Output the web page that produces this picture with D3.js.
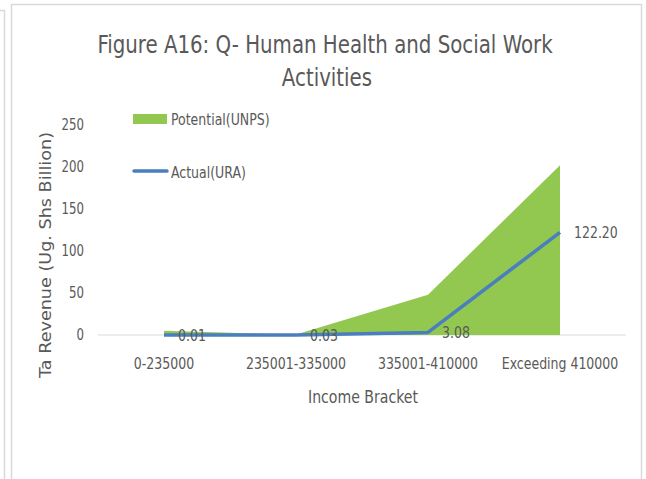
<!DOCTYPE html>
<html>
<head>
<meta charset="utf-8">
<script src="https://cdn.jsdelivr.net/npm/d3@7"></script>
<style>
  body { margin: 0; background: #fff; }
  text { font-family: "DejaVu Sans Condensed", "DejaVu Sans", sans-serif; fill: #595959; }
</style>
</head>
<body>
<svg id="chart"></svg>
<script>
const categories = ["0-235000", "235001-335000", "335001-410000", "Exceeding 410000"]
const potential  = [5, 0.5, 48, 202]
const actual     = [0.01, 0.03, 3.08, 122.20]
const yTicks     = [0, 50, 100, 150, 200, 250]

const width = 646, height = 479

const svg = d3.select("#chart")
    .attr("width", width)
    .attr("height", height)

// squeeze text a bit so it looks like the narrow office font
const squeeze = (sel, f = 0.87) => {
    sel.each(function () {
        const w = this.getComputedTextLength()
        d3.select(this)
            .attr("textLength", w * f)
            .attr("lengthAdjust", "spacingAndGlyphs")
    })
    return sel
}

// outer frames
svg.append("path")
    .attr("d", "M0,10.5 H4.5 V479")
    .attr("fill", "none")
    .attr("stroke", "#d9d9d9")
    .attr("stroke-width", 1.5)
svg.append("path")
    .attr("d", "M11.5,479 V4.5 H641.5 V479")
    .attr("fill", "none")
    .attr("stroke", "#d9d9d9")
    .attr("stroke-width", 1.5)

const x = d3.scalePoint()
    .domain(categories)
    .range([164, 560])

const y = d3.scaleLinear()
    .domain([0, 250])
    .range([335, 125])

// title
const title = svg.append("g")
title.append("text")
    .attr("x", 325).attr("y", 53)
    .text("Figure A16: Q- Human Health and Social Work")
title.append("text")
    .attr("x", 327).attr("y", 86)
    .text("Activities")
squeeze(title.selectAll("text")
    .attr("text-anchor", "middle")
    .style("font-size", "25px"), 0.88)

// y ticks
squeeze(svg.selectAll(".ytick")
    .data(yTicks)
    .enter()
    .append("text")
    .attr("class", "ytick")
    .attr("x", 84)
    .attr("y", d => y(d))
    .attr("dy", "0.35em")
    .attr("text-anchor", "end")
    .style("font-size", "15px")
    .text(d => d))

// baseline
svg.append("line")
    .attr("x1", 98).attr("x2", 626)
    .attr("y1", y(0)).attr("y2", y(0))
    .attr("stroke", "#d9d9d9")
    .attr("stroke-width", 1)

// potential area
const area = d3.area()
    .x((d, i) => x(categories[i]))
    .y0(y(0))
    .y1(d => y(d))
svg.append("path")
    .datum(potential)
    .attr("d", area)
    .attr("fill", "#92c850")

// actual line
const line = d3.line()
    .x((d, i) => x(categories[i]))
    .y(d => y(d))
svg.append("path")
    .datum(actual)
    .attr("d", line)
    .attr("fill", "none")
    .attr("stroke", "#4a7ebf")
    .attr("stroke-width", 3.5)
    .attr("stroke-linejoin", "round")

// data labels
squeeze(svg.selectAll(".dlabel")
    .data(actual)
    .enter()
    .append("text")
    .attr("class", "dlabel")
    .attr("x", (d, i) => x(categories[i]) + 14)
    .attr("y", d => y(d))
    .attr("dy", "0.35em")
    .style("font-size", "16px")
    .text(d => d.toFixed(2)))

// x labels
squeeze(svg.selectAll(".xlabel")
    .data(categories)
    .enter()
    .append("text")
    .attr("class", "xlabel")
    .attr("x", d => x(d))
    .attr("y", 369)
    .attr("text-anchor", "middle")
    .style("font-size", "16px")
    .text(d => d))

// axis titles
squeeze(svg.append("text")
    .attr("x", 363).attr("y", 403)
    .attr("text-anchor", "middle")
    .style("font-size", "18px")
    .text("Income Bracket"))

svg.append("text")
    .attr("transform", "translate(51,255) rotate(-90)")
    .attr("text-anchor", "middle")
    .attr("textLength", 246)
    .attr("lengthAdjust", "spacingAndGlyphs")
    .style("font-family", "'DejaVu Sans', sans-serif")
    .style("font-size", "16px")
    .text("Ta Revenue (Ug. Shs Billion)")

// legend
const legend = svg.append("g")
legend.append("rect")
    .attr("x", 133).attr("y", 114)
    .attr("width", 34).attr("height", 10)
    .attr("fill", "#92c850")
legend.append("line")
    .attr("x1", 134).attr("x2", 167)
    .attr("y1", 171).attr("y2", 171)
    .attr("stroke", "#4a7ebf")
    .attr("stroke-width", 3.5)
    .attr("stroke-linecap", "round")
squeeze(legend.selectAll("text")
    .data(["Potential(UNPS)", "Actual(URA)"])
    .enter()
    .append("text")
    .attr("x", 171)
    .attr("y", (d, i) => i ? 172 : 119)
    .attr("dy", "0.35em")
    .style("font-size", "16px")
    .text(d => d))
</script>
</body>
</html>
